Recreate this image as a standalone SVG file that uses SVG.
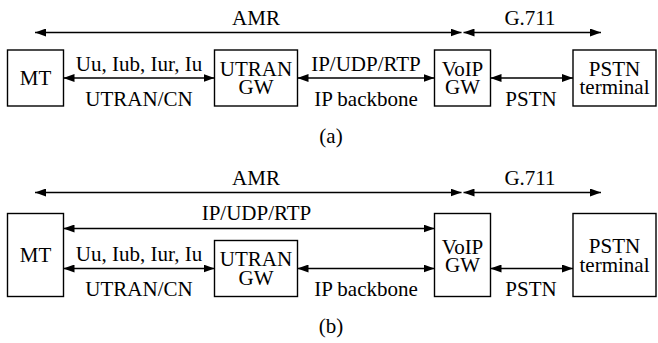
<svg xmlns="http://www.w3.org/2000/svg" width="658" height="343" viewBox="0 0 658 343">
  <defs>
    <marker id="ah" viewBox="0 0 11 8" refX="11" refY="4" markerWidth="11" markerHeight="8" markerUnits="userSpaceOnUse" orient="auto-start-reverse">
      <path d="M0,0 L11,4 L0,8 Z" fill="#000"/>
    </marker>
    <style>
      rect { fill: #fff; stroke: #000; stroke-width: 1.4; }
      text { font-family: "Liberation Serif", "Times New Roman", serif; font-size: 21px; fill: #000; text-anchor: middle; }
      .conn line { stroke: #000; stroke-width: 1.4; marker-start: url(#ah); marker-end: url(#ah); }
    </style>
  </defs>
  <rect x="0" y="0" width="658" height="343" style="fill:#fff;stroke:none"/>

  <!-- (a) gateway path through UTRAN GW over IP backbone -->
  <g class="conn" id="conn-a">
    <line x1="35" y1="32.5" x2="461.5" y2="32.5"/>
    <line x1="463.5" y1="32.5" x2="601" y2="32.5"/>
    <line x1="63.5" y1="78" x2="214.5" y2="78"/>
    <line x1="297.5" y1="78" x2="434.5" y2="78"/>
    <line x1="490.5" y1="78" x2="573" y2="78"/>
  </g>
  <g id="labels-a">
    <text x="256" y="25">AMR</text>
    <text x="530" y="25">G.711</text>
    <text x="139" y="71">Uu, Iub, Iur, Iu</text>
    <text x="139" y="106">UTRAN/CN</text>
    <text x="366" y="71">IP/UDP/RTP</text>
    <text x="366" y="106">IP backbone</text>
    <text x="531" y="106">PSTN</text>
    <text x="331" y="143">(a)</text>
  </g>
  <g id="mt-a">
    <rect x="7.5" y="50" width="56" height="56"/>
    <text x="35.5" y="85">MT</text>
  </g>
  <g id="utran-gw-a">
    <rect x="214.5" y="50" width="83" height="56"/>
    <text x="256" y="75.5">UTRAN</text>
    <text x="256" y="94">GW</text>
  </g>
  <g id="voip-gw-a">
    <rect x="434.5" y="50" width="56" height="56"/>
    <text x="462.5" y="75.5">VoIP</text>
    <text x="462.5" y="94">GW</text>
  </g>
  <g id="pstn-terminal-a">
    <rect x="573" y="50" width="83" height="56"/>
    <text x="614.5" y="75.5">PSTN</text>
    <text x="614.5" y="94">terminal</text>
  </g>

  <!-- (b) IP/UDP/RTP end to end from MT to VoIP GW -->
  <g class="conn" id="conn-b">
    <line x1="35" y1="192.5" x2="461.5" y2="192.5"/>
    <line x1="463.5" y1="192.5" x2="601" y2="192.5"/>
    <line x1="63.5" y1="228.5" x2="434.5" y2="228.5"/>
    <line x1="63.5" y1="268.5" x2="214.5" y2="268.5"/>
    <line x1="297.5" y1="268.5" x2="434.5" y2="268.5"/>
    <line x1="490.5" y1="268.5" x2="573" y2="268.5"/>
  </g>
  <g id="labels-b">
    <text x="256" y="185">AMR</text>
    <text x="530" y="185">G.711</text>
    <text x="256.5" y="220">IP/UDP/RTP</text>
    <text x="139" y="261">Uu, Iub, Iur, Iu</text>
    <text x="139" y="296">UTRAN/CN</text>
    <text x="366" y="296">IP backbone</text>
    <text x="531" y="296">PSTN</text>
    <text x="331" y="333">(b)</text>
  </g>
  <g id="mt-b">
    <rect x="7.5" y="213.5" width="56" height="83"/>
    <text x="35.5" y="262">MT</text>
  </g>
  <g id="utran-gw-b">
    <rect x="214.5" y="240.5" width="83" height="56"/>
    <text x="256" y="266">UTRAN</text>
    <text x="256" y="284.5">GW</text>
  </g>
  <g id="voip-gw-b">
    <rect x="434.5" y="213.5" width="56" height="83"/>
    <text x="462.5" y="253.5">VoIP</text>
    <text x="462.5" y="272">GW</text>
  </g>
  <g id="pstn-terminal-b">
    <rect x="573" y="213.5" width="83" height="83"/>
    <text x="614.5" y="253">PSTN</text>
    <text x="614.5" y="271.5">terminal</text>
  </g>
</svg>
